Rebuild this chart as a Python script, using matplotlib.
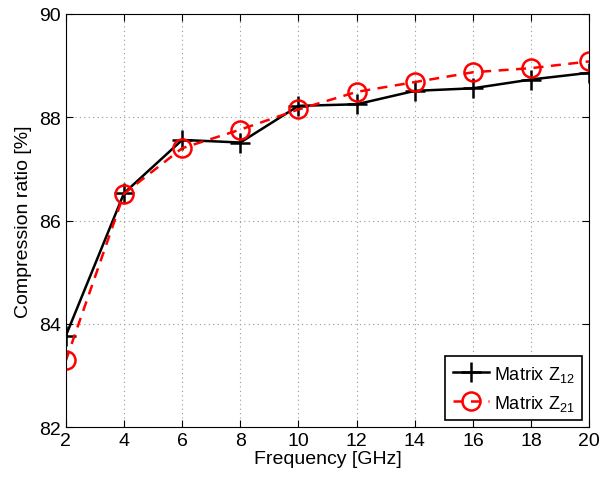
import matplotlib
matplotlib.use('Agg')
import matplotlib.pyplot as plt

plt.rcParams['font.family'] = ['Liberation Sans', 'DejaVu Sans']

freq = [2, 4, 6, 8, 10, 12, 14, 16, 18, 20]
z12 = [83.77, 86.53, 87.56, 87.51, 88.22, 88.25, 88.51, 88.56, 88.73, 88.86]
z21 = [83.29, 86.52, 87.40, 87.76, 88.15, 88.49, 88.68, 88.87, 88.95, 89.08]

fig = plt.figure(figsize=(6.1, 4.81), dpi=100)
ax = fig.add_axes([0.108, 0.110, 0.858, 0.859])

ax.plot(freq, z12, '-', color='black', linewidth=1.8, marker='+',
        markersize=15, markeredgewidth=1.8, label=r'Matrix $\mathregular{Z_{12}}$')
ax.plot(freq, z21, '--', color='red', linewidth=1.8, marker='o',
        markersize=13, markeredgewidth=1.8, markerfacecolor='none',
        dashes=(4, 3), label=r'Matrix $\mathregular{Z_{21}}$')

ax.set_xlim(2, 20)
ax.set_ylim(82, 90)
ax.set_xticks(freq)
ax.set_yticks([82, 84, 86, 88, 90])
ax.tick_params(direction='in', labelsize=14, length=5, top=True, right=True)
ax.grid(True, linestyle=(0, (1, 3)), color='#999999', linewidth=0.8)
ax.set_xlabel('Frequency [GHz]', fontsize=14, labelpad=1)
ax.set_ylabel('Compression ratio [%]', fontsize=14, labelpad=5)

leg = ax.legend(loc='lower right', fontsize=13, fancybox=False, framealpha=1,
                edgecolor='black', borderaxespad=0.4, handlelength=2.0,
                handletextpad=0.3, labelspacing=0.5, borderpad=0.4)
leg.get_frame().set_linewidth(1.2)

fig.savefig('out.png', dpi=100)
